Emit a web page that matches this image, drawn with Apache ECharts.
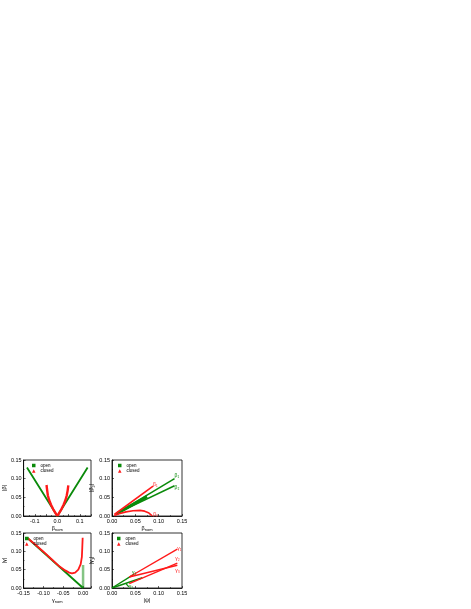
<!DOCTYPE html>
<html>
<head>
<meta charset="utf-8">
<script src="https://cdn.jsdelivr.net/npm/echarts@6/dist/echarts.min.js"></script>
<style>
html,body{margin:0;padding:0;background:#fff;}
#main{width:471px;height:609px;}
</style>
</head>
<body>
<div id="main"></div>
<script>
// 数据
var betaOpenV = [[-0.135, 0.130], [0, 0], [0.135, 0.130]];
var betaClosedL = [[0, 0], [-0.008, 0.008], [-0.018, 0.018], [-0.028, 0.030], [-0.036, 0.042], [-0.042, 0.055], [-0.045, 0.068], [-0.048, 0.083]];
var betaClosedR = [[0, 0], [0.008, 0.008], [0.018, 0.018], [0.028, 0.030], [0.036, 0.042], [0.042, 0.055], [0.046, 0.068], [0.049, 0.082]];

var betaJOpen1 = [[0.010, 0.007], [0.134, 0.100]];
var betaJOpen2 = [[0.010, 0.007], [0.134, 0.081]];
var betaJOpen3 = [[0.010, 0.006], [0.075, 0.052]];
var betaJClosed1 = [[0.005, 0.004], [0.088, 0.080]];
var betaJClosed2 = [[0.005, 0.001], [0.015, 0.006], [0.030, 0.011], [0.045, 0.014], [0.060, 0.015], [0.070, 0.013], [0.078, 0.009], [0.083, 0.004], [0.086, 0]];

var gammaOpen = [[-0.141, 0.137], [0, 0]];
var gammaOpenV = [[0, 0], [0, 0.063]];
var gammaClosed = [[-0.141, 0.137], [-0.12, 0.118], [-0.10, 0.099], [-0.08, 0.079], [-0.06, 0.059], [-0.045, 0.048], [-0.035, 0.042], [-0.028, 0.040], [-0.020, 0.042], [-0.012, 0.050], [-0.006, 0.065], [-0.003, 0.085], [-0.002, 0.110], [-0.001, 0.137]];

var gammaJOpen1 = [[0, 0], [0.045, 0.036]];
var gammaJOpen2 = [[0, 0], [0.065, 0.028]];
var gammaJOpen3 = [[0.030, 0.012], [0.036, 0.003]];
var gammaJClosed1 = [[0.037, 0.030], [0.140, 0.106]];
var gammaJClosed2 = [[0.037, 0.012], [0.140, 0.068]];
var gammaJClosed3 = [[0.037, 0.030], [0.140, 0.062]];

var GREEN = "#0a8a0a";
var RED = "#ff1a1a";
var FONT = "Liberation Sans";

var myChart = echarts.init(document.getElementById("main"));

var grids = [
    { left: 23, top: 460, width: 68, height: 56 },
    { left: 112, top: 460, width: 70, height: 56 },
    { left: 23, top: 533, width: 68, height: 55 },
    { left: 112, top: 533, width: 70, height: 55 }
];
grids.forEach(function (g) {
    g.show = true;
    g.borderColor = "#000";
    g.borderWidth = 0.8;
    g.backgroundColor = "transparent";
});

var subRich = {
    sub: { fontSize: 4, verticalAlign: "bottom", padding: [3, 0, 0, 0], fontFamily: FONT, color: "#000" }
};

function xAxis(idx, min, max, fmt, name) {
    return {
        type: "value", gridIndex: idx, min: min, max: max, interval: 0.05,
        name: name, nameLocation: "middle", nameGap: 9,
        nameTextStyle: { fontSize: 5.5, fontFamily: FONT, color: "#000", rich: subRich },
        axisLine: { onZero: false, lineStyle: { color: "#000", width: 0.8 } },
        axisTick: { inside: true, length: 2, lineStyle: { color: "#000", width: 0.6 } },
        minorTick: { show: true, splitNumber: 2, length: 1, lineStyle: { color: "#000", width: 0.5 } },
        splitLine: { show: false },
        axisLabel: { fontSize: 5.5, fontFamily: FONT, color: "#000", margin: 2, formatter: fmt, showMaxLabel: max === 0.15 }
    };
}
function yAxis(idx, name) {
    return {
        type: "value", gridIndex: idx, min: 0, max: 0.15, interval: 0.05,
        name: name, nameLocation: "middle", nameGap: 15, nameRotate: 90,
        nameTextStyle: { fontSize: 5.5, fontFamily: FONT, color: "#000", rich: subRich },
        axisLine: { onZero: false, lineStyle: { color: "#000", width: 0.8 } },
        axisTick: { inside: true, length: 2, lineStyle: { color: "#000", width: 0.6 } },
        minorTick: { show: true, splitNumber: 2, length: 1, lineStyle: { color: "#000", width: 0.5 } },
        splitLine: { show: false },
        axisLabel: { fontSize: 5.5, fontFamily: FONT, color: "#000", margin: 2, formatter: function (v) { return v.toFixed(2); } }
    };
}

var fmt2 = function (v) { return v.toFixed(2); };
var fmt1 = function (v) {
    var r = Math.round(v * 100);
    if (r % 10 !== 0) return "";
    return v.toFixed(1);
};
var fmt3 = function (v) {
    var r = Math.round(v * 100);
    if (r > 0) return "";
    return v.toFixed(2);
};

function line(name, xi, data, color, width, opacity, tagText, tagOff) {
    var s = {
        name: name, type: "line", xAxisIndex: xi, yAxisIndex: xi,
        data: data, showSymbol: false, symbol: "none", animation: false,
        lineStyle: { color: color, width: width || 2, opacity: opacity || 1 },
        itemStyle: { color: color }
    };
    if (tagText) {
        s.endLabel = {
            show: true, formatter: tagText, color: color, fontSize: 5, fontFamily: FONT,
            distance: 1, offset: tagOff || [0, 0]
        };
    }
    return s;
}

function legend(left, top) {
    return {
        left: left, top: top, orient: "vertical", itemGap: 0.5,
        itemWidth: 3.5, itemHeight: 3.5, padding: 0,
        textStyle: { fontSize: 4.5, fontFamily: FONT, color: "#000", padding: [0, 0, 0, 0] },
        data: [
            { name: "open", icon: "rect", itemStyle: { color: GREEN } },
            { name: "closed", icon: "triangle", itemStyle: { color: RED } }
        ],
        selectedMode: false
    };
}

var option = {
    backgroundColor: "#fff",
    animation: false,
    grid: grids,
    legend: [legend(32, 463), legend(118, 463), legend(25, 536), legend(117, 536)],
    xAxis: [
        xAxis(0, -0.15, 0.15, fmt1, "β{sub|nom}"),
        xAxis(1, 0, 0.15, fmt2, "β{sub|nom}"),
        xAxis(2, -0.15, 0.02, fmt3, "γ{sub|nom}"),
        xAxis(3, 0, 0.15, fmt2, "|ψ|")
    ],
    yAxis: [
        yAxis(0, "|β|"),
        yAxis(1, "|β{sub|J}|"),
        yAxis(2, "|γ|"),
        yAxis(3, "|γ{sub|J}|")
    ],
    series: [
        line("open", 0, betaOpenV, GREEN, 1.8),
        line("closed", 0, betaClosedL, RED, 2.4),
        line("closed", 0, betaClosedR, RED, 2.4),

        line("open", 1, betaJOpen1, GREEN, 1.6, 1, "β₁", [-1, -3]),
        line("open", 1, betaJOpen2, GREEN, 1.6, 1, "β₂", [-1, 2]),
        line("open", 1, betaJOpen3, GREEN, 3),
        line("closed", 1, betaJClosed1, RED, 1.6, 1, "β₁", [-1, -2]),
        line("closed", 1, betaJClosed2, RED, 1.6, 1, "β₂", [0, -1]),

        line("open", 2, gammaOpen, GREEN, 1.8),
        line("open", 2, gammaOpenV, GREEN, 2.5, 0.5),
        line("closed", 2, gammaClosed, RED, 1.8),

        line("open", 3, gammaJOpen1, GREEN, 1.4, 1, "γ₁", [-2, -2]),
        line("open", 3, gammaJOpen2, GREEN, 1.4),
        line("open", 3, gammaJOpen3, GREEN, 1.2, 1, "γ₂", [-1, 0]),
        line("closed", 3, gammaJClosed1, RED, 1.4, 1, "γ₁", [-1, -1]),
        line("closed", 3, gammaJClosed2, RED, 1.4, 1, "γ₂", [-3, -4]),
        line("closed", 3, gammaJClosed3, RED, 1.4, 1, "γ₃", [-3, 5])
    ]
};

myChart.setOption(option);
</script>
</body>
</html>
